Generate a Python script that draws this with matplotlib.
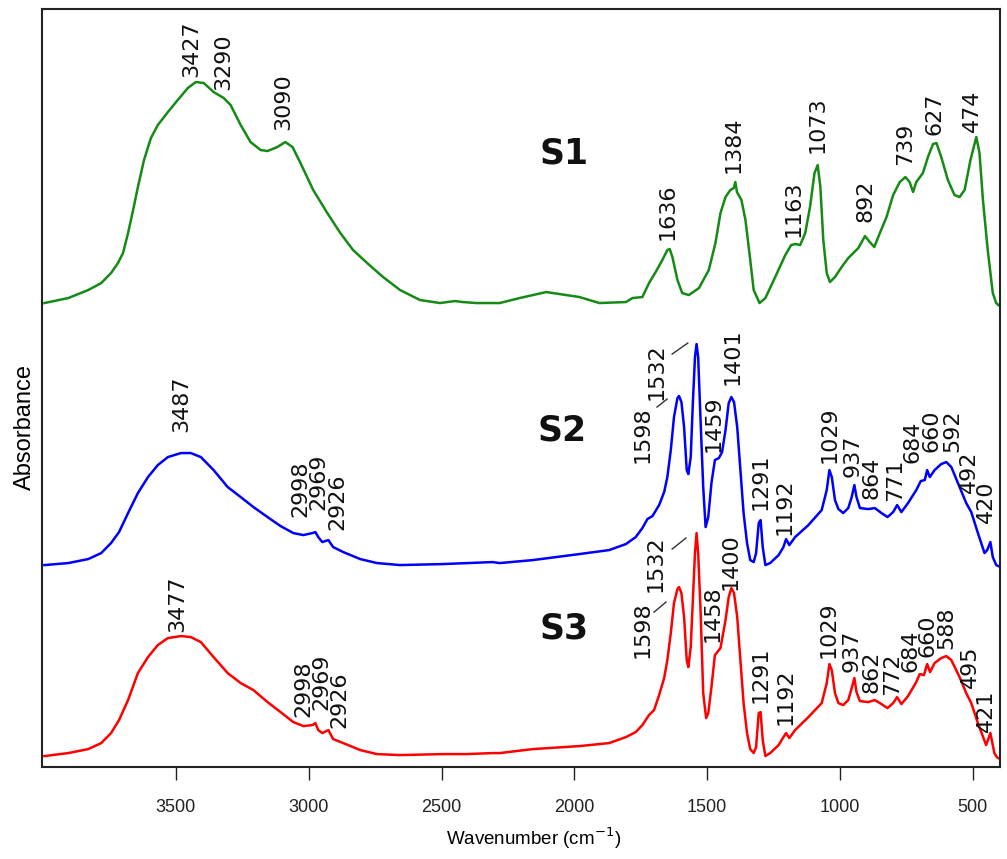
import numpy as np
import matplotlib
matplotlib.use('Agg')
import matplotlib.pyplot as plt

# spectrum S1 (green)
wn_s1 = [3995, 3905, 3830, 3781, 3744, 3718, 3699, 3680, 3661, 3643, 3620, 3594, 3568, 3530,
         3493, 3455, 3425, 3395, 3358, 3320, 3294, 3256, 3219, 3181, 3155, 3118, 3088,
         3061, 3031, 2983, 2930, 2881, 2833, 2780, 2720, 2656, 2581, 2506, 2450, 2420,
         2368, 2281, 2206, 2106, 2031, 1981, 1906, 1806, 1781, 1744, 1719, 1694, 1669,
         1650, 1641, 1631, 1612, 1594, 1569, 1531, 1494, 1469, 1450, 1431, 1413, 1400,
         1394, 1388, 1371, 1356, 1341, 1325, 1303, 1281, 1244, 1206, 1184, 1169, 1150,
         1131, 1113, 1096, 1084, 1074, 1063, 1050, 1038, 1019, 994, 969, 931, 906, 888,
         871, 850, 825, 800, 775, 754, 738, 725, 713, 688, 669, 650, 637, 619, 594, 569,
         550, 531, 509, 487, 475, 462, 444, 425, 412, 404]
abs_s1 = [4.65, 4.70, 4.78, 4.85, 4.95, 5.05, 5.15, 5.35, 5.58, 5.81, 6.08, 6.30, 6.43, 6.56,
          6.68, 6.80, 6.86, 6.85, 6.76, 6.70, 6.63, 6.43, 6.26, 6.18, 6.17, 6.21, 6.26,
          6.21, 6.05, 5.78, 5.55, 5.35, 5.18, 5.05, 4.91, 4.78, 4.68, 4.65, 4.67, 4.66,
          4.65, 4.65, 4.70, 4.76, 4.73, 4.71, 4.65, 4.66, 4.70, 4.71, 4.85, 4.96, 5.08,
          5.18, 5.19, 5.11, 4.88, 4.75, 4.73, 4.80, 4.98, 5.25, 5.55, 5.71, 5.78, 5.80,
          5.86, 5.76, 5.68, 5.48, 5.15, 4.78, 4.65, 4.70, 4.91, 5.13, 5.23, 5.24, 5.23,
          5.35, 5.61, 5.95, 6.03, 5.81, 5.28, 4.95, 4.86, 4.91, 5.01, 5.10, 5.20, 5.32, 5.26,
          5.21, 5.35, 5.51, 5.73, 5.86, 5.91, 5.86, 5.76, 5.86, 5.95, 6.11, 6.24, 6.25, 6.11,
          5.88, 5.73, 5.71, 5.78, 6.08, 6.31, 6.15, 5.68, 5.18, 4.75, 4.65, 4.63]

# spectrum S2 (blue)
wn_s2 = [3995, 3905, 3830, 3781, 3744, 3714, 3680, 3643, 3605, 3568, 3530, 3481, 3444, 3406,
         3358, 3305, 3256, 3208, 3155, 3106, 3058, 3020, 2986, 2975, 2964, 2949, 2926,
         2908, 2870, 2806, 2743, 2656, 2495, 2405, 2308, 2281, 2156, 1981, 1869, 1806,
         1769, 1744, 1725, 1706, 1681, 1662, 1650, 1637, 1625, 1612, 1606, 1597, 1587,
         1577, 1571, 1562, 1554, 1546, 1540, 1534, 1525, 1515, 1506, 1496, 1484, 1471,
         1456, 1444, 1431, 1419, 1409, 1399, 1387, 1375, 1363, 1350, 1338, 1325, 1316,
         1306, 1299, 1291, 1281, 1263, 1231, 1213, 1203, 1191, 1169, 1119, 1069, 1050,
         1040, 1031, 1019, 1006, 988, 969, 956, 946, 938, 925, 894, 869, 844, 821, 800,
         785, 769, 744, 713, 696, 681, 672, 662, 644, 619, 600, 581, 550, 525, 506, 481,
         456, 446, 434, 425, 412, 404]
abs_s2 = [2.03, 2.05, 2.09, 2.15, 2.25, 2.36, 2.55, 2.75, 2.91, 3.03, 3.11, 3.15, 3.15, 3.11,
          2.98, 2.81, 2.71, 2.61, 2.51, 2.42, 2.35, 2.33, 2.35, 2.36, 2.31, 2.26, 2.28,
          2.21, 2.16, 2.09, 2.05, 2.03, 2.04, 2.05, 2.06, 2.05, 2.08, 2.14, 2.18, 2.24,
          2.31, 2.40, 2.49, 2.52, 2.63, 2.76, 2.91, 3.18, 3.51, 3.70, 3.72, 3.66, 3.41,
          2.98, 2.94, 3.11, 3.65, 4.11, 4.24, 4.11, 3.48, 2.81, 2.41, 2.51, 2.85, 3.08,
          3.10, 3.16, 3.38, 3.65, 3.71, 3.66, 3.41, 2.98, 2.55, 2.25, 2.08, 2.06, 2.15,
          2.45, 2.48, 2.21, 2.03, 2.05, 2.13, 2.21, 2.29, 2.23, 2.31, 2.43, 2.58, 2.78,
          2.98, 2.91, 2.68, 2.59, 2.55, 2.60, 2.71, 2.83, 2.71, 2.60, 2.59, 2.60, 2.55, 2.51, 2.56,
          2.63, 2.56, 2.65, 2.78, 2.87, 2.88, 2.98, 2.91, 2.98, 3.04, 3.06, 3.01, 2.81, 2.65, 2.56, 2.35,
          2.15, 2.18, 2.26, 2.11, 2.03, 2.02]

# spectrum S3 (red)
wn_s3 = [3995, 3905, 3830, 3781, 3744, 3714, 3680, 3643, 3605, 3568, 3530, 3481, 3444, 3406,
         3358, 3305, 3256, 3208, 3155, 3106, 3058, 3020, 2986, 2975, 2964, 2949, 2926,
         2908, 2870, 2806, 2743, 2656, 2495, 2405, 2308, 2281, 2156, 1981, 1869, 1806,
         1769, 1744, 1719, 1700, 1681, 1662, 1650, 1637, 1625, 1612, 1606, 1597, 1587,
         1577, 1571, 1562, 1554, 1546, 1540, 1534, 1525, 1515, 1504, 1496, 1484, 1471,
         1462, 1450, 1431, 1419, 1409, 1399, 1387, 1375, 1363, 1350, 1338, 1325, 1316,
         1306, 1299, 1291, 1281, 1263, 1231, 1213, 1203, 1191, 1169, 1119, 1069, 1050,
         1040, 1031, 1019, 1006, 988, 969, 956, 946, 938, 925, 894, 869, 844, 821, 800,
         785, 769, 744, 713, 700, 684, 672, 661, 644, 619, 600, 581, 550, 525, 506, 481,
         450, 434, 419, 410, 404]
abs_s3 = [0.12, 0.15, 0.19, 0.25, 0.35, 0.48, 0.68, 0.95, 1.11, 1.23, 1.30, 1.32, 1.31, 1.26,
          1.11, 0.95, 0.85, 0.78, 0.66, 0.56, 0.46, 0.42, 0.43, 0.45, 0.38, 0.35, 0.38,
          0.29, 0.25, 0.18, 0.14, 0.13, 0.14, 0.14, 0.15, 0.15, 0.19, 0.22, 0.25, 0.31,
          0.36, 0.43, 0.53, 0.58, 0.73, 0.90, 1.08, 1.35, 1.65, 1.79, 1.81, 1.75, 1.51,
          1.08, 1.01, 1.21, 1.68, 2.15, 2.35, 2.15, 1.58, 0.75, 0.50, 0.55, 0.81, 1.13,
          1.16, 1.20, 1.48, 1.71, 1.80, 1.75, 1.51, 1.08, 0.65, 0.35, 0.19, 0.15, 0.21,
          0.55, 0.56, 0.28, 0.12, 0.15, 0.23, 0.31, 0.35, 0.30, 0.38, 0.51, 0.65, 0.85,
          1.04, 0.98, 0.75, 0.65, 0.63, 0.68, 0.80, 0.90, 0.76, 0.67, 0.66, 0.68, 0.64, 0.60, 0.65,
          0.71, 0.64, 0.72, 0.86, 0.94, 0.93, 1.04, 0.96, 1.05, 1.10, 1.12, 1.08, 0.91, 0.75, 0.65, 0.45,
          0.23, 0.35, 0.15, 0.11, 0.10]

# peak labels: text, x, y (bottom of label)
labels_s1 = [('3427', 3444, 6.91), ('3290', 3320, 6.78), ('3090', 3095, 6.38),
             ('1636', 1651, 5.28), ('1384', 1400, 5.95), ('1163', 1175, 5.31),
             ('1073', 1085, 6.15), ('892', 905, 5.46), ('739', 755, 6.03),
             ('627', 643, 6.33), ('474', 504, 6.36)]
labels_s2 = [('3487', 3481, 3.36), ('2998', 3030, 2.51), ('2969', 2962, 2.58),
             ('2926', 2893, 2.38), ('1598', 1745, 3.05), ('1532', 1692, 3.68),
             ('1459', 1475, 3.16), ('1401', 1404, 3.83), ('1291', 1299, 2.58),
             ('1192', 1209, 2.33), ('1029', 1040, 3.05), ('937', 954, 2.91),
             ('864', 883, 2.69), ('771', 793, 2.67), ('684', 729, 3.05),
             ('660', 654, 3.16), ('592', 579, 3.16), ('492', 515, 2.75), ('420', 451, 2.45)]
labels_s3 = [('3477', 3493, 1.36), ('2998', 3020, 0.51), ('2969', 2953, 0.58),
             ('2926', 2885, 0.40), ('1598', 1745, 1.10), ('1532', 1696, 1.76),
             ('1458', 1479, 1.26), ('1400', 1411, 1.78), ('1291', 1299, 0.65),
             ('1192', 1205, 0.43), ('1029', 1044, 1.10), ('937', 958, 0.96),
             ('862', 883, 0.75), ('772', 804, 0.73), ('684', 733, 0.96),
             ('660', 669, 1.11), ('588', 601, 1.19), ('495', 511, 0.80), ('421', 451, 0.36)]

# small leader lines next to 1598 / 1532
leaders = [((1632, 1573), (4.14, 4.25)), ((1689, 1651), (3.61, 3.69)),
           ((1632, 1580), (2.19, 2.30)), ((1700, 1655), (1.56, 1.66))]

plt.rcParams['font.family'] = ['Liberation Sans', 'DejaVu Sans']

fig = plt.figure(figsize=(10.07, 8.59), dpi=100)
ax = fig.add_axes([0.0417, 0.107, 0.9513, 0.8825])

ax.plot(wn_s1, abs_s1, color='#158a15', lw=1.8)
ax.plot(wn_s2, abs_s2, color='#0000ff', lw=1.8)
ax.plot(wn_s3, abs_s3, color='#ff0000', lw=1.8)

for lab in (labels_s1, labels_s2, labels_s3):
    for txt, x, y in lab:
        ax.text(x, y, txt, rotation=90, ha='center', va='bottom', fontsize=16,
                family='DejaVu Sans', color='#111111')

for xs, ys in leaders:
    ax.plot(xs, ys, color='#333333', lw=1)

for name, x, y in [('S1', 2037, 6.15), ('S2', 2045, 3.38), ('S3', 2037, 1.40)]:
    ax.text(x, y, name, ha='center', va='center', fontsize=25, fontweight='bold',
            family='DejaVu Sans', color='#111111')

ax.set_xlim(4004, 398)
ax.set_ylim(0.01, 7.59)
ax.set_xticks([3500, 3000, 2500, 2000, 1500, 1000, 500])
ax.set_yticks([])
ax.tick_params(axis='x', direction='out', length=9, width=1, labelsize=13, pad=14, colors='#222222')
for s in ax.spines.values():
    s.set_linewidth(1.5)
    s.set_color('#222222')

ax.set_xlabel('Wavenumber (cm$^{-1}$)', fontsize=13.5, labelpad=7, x=0.513)
ax.set_ylabel('Absorbance', fontsize=17, labelpad=4, y=0.449)

plt.savefig('out.png', dpi=100)
